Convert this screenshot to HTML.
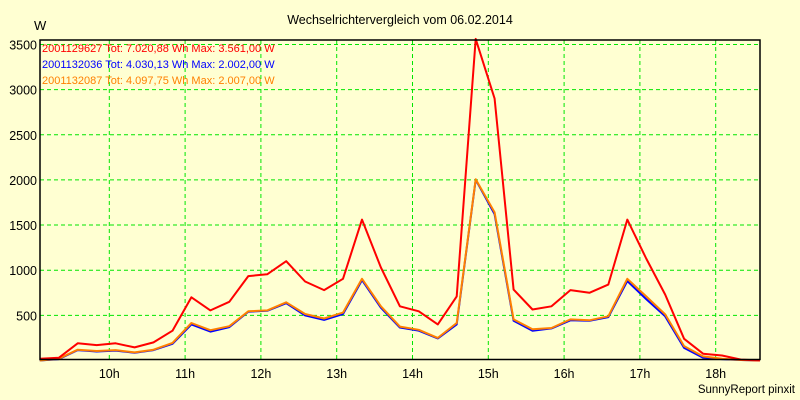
<!DOCTYPE html>
<html><head><meta charset="utf-8"><style>
html,body{margin:0;padding:0;background:#ffffd2;}
svg{display:block;font-family:"Liberation Sans",sans-serif;}
</style></head><body>
<svg id="chart" width="800" height="400" viewBox="0 0 800 400" xmlns="http://www.w3.org/2000/svg">
<rect x="0" y="0" width="800" height="400" fill="#ffffd2"/>
<text x="400" y="24" text-anchor="middle" font-size="12.5" fill="#000">Wechselrichtervergleich vom 06.02.2014</text>
<text x="34" y="30" font-size="13" fill="#000">W</text>
<g id="grid"></g>
<g id="series"></g>
<rect x="40" y="40" width="720" height="319.5" fill="none" stroke="#000" stroke-width="1.5"/>
<g id="yticks"></g>
<g id="xticks"></g>
<g font-size="11">
<text x="42" y="52" fill="#ff0000">2001129627 Tot: 7.020,88 Wh Max: 3.561,00 W</text>
<text x="42" y="68" fill="#0000ff">2001132036 Tot: 4.030,13 Wh Max: 2.002,00 W</text>
<text x="42" y="84" fill="#ff8000">2001132087 Tot: 4.097,75 Wh Max: 2.007,00 W</text>
</g>
<text x="795" y="393" text-anchor="end" font-size="11.5" fill="#000">SunnyReport pinxit</text>
</svg>
<script>
const yTicks=[500,1000,1500,2000,2500,3000,3500];
const xHours=[10,11,12,13,14,15,16,17,18];
const startHour=9+5/60;
const stepHours=0.25;
const red=[20,30,190,170,190,145,200,330,700,555,650,935,955,1100,875,780,905,1560,1030,600,545,400,710,3561,2900,785,565,600,780,750,840,1560,1130,730,240,75,55,10,0];
const orange=[0,20,120,105,115,90,120,195,415,335,380,545,555,645,515,465,530,905,600,375,340,250,415,2007,1640,455,345,360,455,445,490,905,710,510,160,45,20,5,0];
const blue=[0,15,115,100,110,85,115,185,400,320,370,540,550,635,500,450,515,890,585,365,330,245,400,2002,1620,440,330,355,445,440,480,880,680,490,140,30,15,5,0];
const NS='http://www.w3.org/2000/svg';
function X(h){return 109.3+(h-10)*75.8;}
function Y(v){return 360.5-v*0.0903;}
function mk(tag,attrs,parent){const e=document.createElementNS(NS,tag);for(const k in attrs)e.setAttribute(k,attrs[k]);parent.appendChild(e);return e;}
const grid=document.getElementById('grid'),yt=document.getElementById('yticks'),xt=document.getElementById('xticks'),ser=document.getElementById('series');
yTicks.forEach(v=>{
  const l=mk('line',{x1:40,x2:760,y1:Y(v),y2:Y(v),stroke:'#00e600','stroke-width':1,'stroke-dasharray':'4,3'},grid);
  
  
  const t=mk('text',{x:37,y:Y(v)+5,'text-anchor':'end','font-size':12.5,fill:'#000'},yt);
  t.textContent=v;
  
  
});
xHours.forEach(h=>{
  const l=mk('line',{x1:X(h),x2:X(h),y1:40,y2:359,stroke:'#00e600','stroke-width':1,'stroke-dasharray':'4,3'},grid);
  
  
  const t=mk('text',{x:X(h),y:378,'text-anchor':'middle','font-size':12.5,fill:'#000'},xt);
  t.textContent=h+'h';
  
  
});
function line(arr,color,name,w){
  const pts=arr.map((v,i)=>X(startHour+i*stepHours).toFixed(1)+','+Y(v).toFixed(1)).join(' ');
  const p=mk('polyline',{points:pts,fill:'none',stroke:color,'stroke-width':w,'stroke-linejoin':'round'},ser);
  
  
}
line(blue,'#0000ff','series-2001132036',2);
line(orange,'#ff8000','series-2001132087',2);
line(red,'#ff0000','series-2001129627',2);
</script>
</body></html>
